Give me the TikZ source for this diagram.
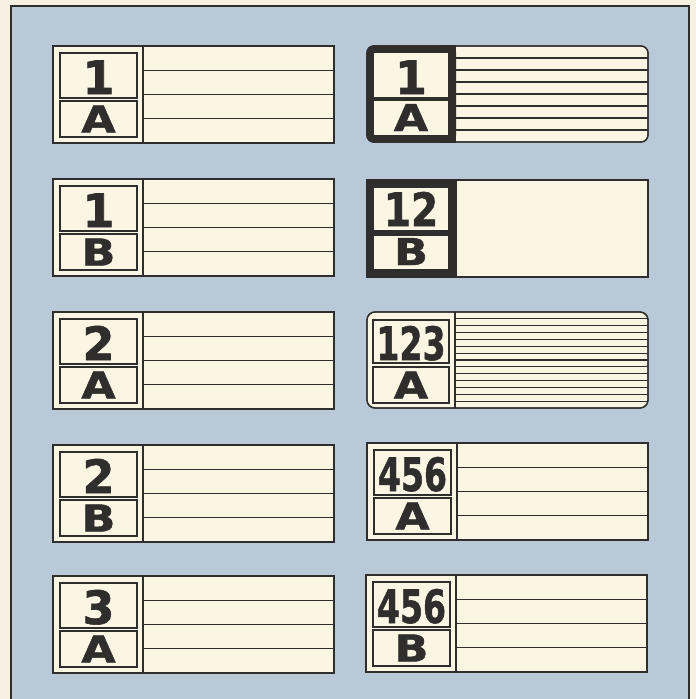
\documentclass[tikz,border=0pt]{standalone}
\usepackage{fontspec}
\setmainfont{DejaVu Sans}
\newfontfamily\heavyfont[FakeBold=1.3]{DejaVu Sans}
\definecolor{bg}{RGB}{186,201,216}
\definecolor{paper}{RGB}{251,245,228}
\definecolor{outer}{RGB}{246,241,226}
\definecolor{ink}{RGB}{48,45,45}
\tikzset{
  cardfill/.style={fill=paper, draw=ink, line width=1.3pt},
  rulest/.style={draw=ink, line width=1.1pt},
  boxst/.style={draw=ink, line width=1.1pt},
  numtxt/.style={font=\heavyfont\bfseries\fontsize{46}{46}\selectfont, text=ink, inner sep=0pt, anchor=base},
  lettxt/.style={font=\heavyfont\bfseries\fontsize{37}{37}\selectfont, text=ink, inner sep=0pt, anchor=base},
}
\newcommand\stdcard[6]{%
  \draw[cardfill] (#2,#3) rectangle (#2+281,#3+97);
  \draw[rulest] (#2+90,#3) -- (#2+90,#3+97);
  \foreach \k in {1,2,3} {\draw[rulest] (#2+90,#3+24.25*\k) -- (#2+281,#3+24.25*\k);}
  \draw[boxst] (#2+7,#3+7) rectangle (#2+84,#3+52);
  \draw[boxst] (#2+7,#3+55) rectangle (#2+84,#3+91);
  \node[numtxt] (#1n) at (#2+45.5,#3+48) {\scalebox{#6}[1]{#4}};
  \node[lettxt] (#1l) at (#2+45.5,#3+86.5) {\scalebox{1.2}[1]{#5}};
}
\begin{document}
\begin{tikzpicture}[x=1pt,y=-1pt]
\useasboundingbox (0,0) rectangle (696,699);
\clip (0,0) rectangle (696,699);
\fill[outer] (0,0) rectangle (696,699);
\filldraw[fill=bg, draw=ink, line width=1.4pt] (11,6) rectangle (689,720);

% left column
\stdcard{L1}{53}{46}{1}{A}{1}
\stdcard{L2}{53}{179}{1}{B}{1}
\stdcard{L3}{53}{312}{2}{A}{1}
\stdcard{L4}{53}{445}{2}{B}{1}
\stdcard{L5}{53}{576}{3}{A}{1}

% right column, card 1
\filldraw[cardfill, rounded corners=7pt] (367,46) rectangle (648,142);
\begin{scope}
  \clip[rounded corners=7pt] (367,46) rectangle (648,142);
  \foreach \k in {1,...,7} {\draw[rulest] (456,46+12*\k) -- (648,46+12*\k);}
\end{scope}
\draw[ink, line width=1.3pt, rounded corners=7pt] (367,46) rectangle (648,142);
\fill[ink, rounded corners=7pt] (366.4,45.4) rectangle (456,142.6);
\fill[ink] (440,45.4) rectangle (456,142.6);
\fill[paper] (374,53) rectangle (448,97);
\fill[paper] (374,101) rectangle (448,135);
\node[numtxt] (R1n) at (411,94) {1};
\node[lettxt] (R1l) at (411,131) {\scalebox{1.2}[1]{A}};

% right card 2
\filldraw[cardfill] (367,180) rectangle (648,277);
\fill[ink] (366.4,179.4) rectangle (457,277.6);
\fill[paper] (374,188) rectangle (448,230);
\fill[paper] (374,236) rectangle (448,269);
\node[numtxt] (R2n) at (411,226) {\scalebox{0.85}[1]{12}};
\node[lettxt] (R2l) at (411,265) {\scalebox{1.2}[1]{B}};

% right card 3
\filldraw[cardfill, rounded corners=8pt] (367,312) rectangle (648,408);
\begin{scope}
  \clip[rounded corners=8pt] (367,312) rectangle (648,408);
  \foreach \k in {1,...,13} {\draw[rulest] (455,312+6.857*\k) -- (648,312+6.857*\k);}
\end{scope}
\draw[ink, line width=1.3pt, rounded corners=8pt] (367,312) rectangle (648,408);
\draw[rulest] (455,312) -- (455,408);
\draw[boxst] (373,320) rectangle (449,363);
\draw[boxst] (373,367) rectangle (449,403);
\node[numtxt] (R3n) at (411,360) {\scalebox{0.72}[1]{123}};
\node[lettxt] (R3l) at (411,398.5) {\scalebox{1.2}[1]{A}};

% right cards 4 and 5
\stdcard{R4}{367}{443}{456}{A}{0.72}
\stdcard{R5}{366}{575}{456}{B}{0.72}
\end{tikzpicture}
\end{document}
